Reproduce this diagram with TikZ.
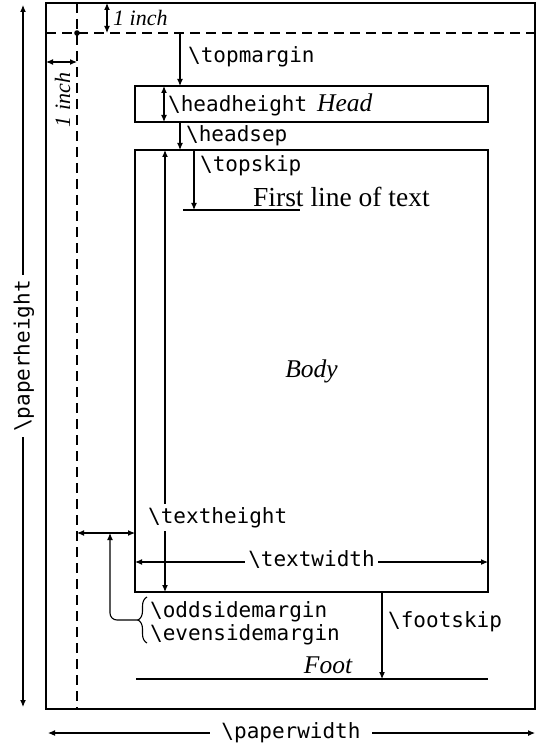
\documentclass[tikz,border=0pt]{standalone}
\usepackage{fontspec}
\setmainfont{Liberation Serif}
\setmonofont{DejaVu Sans Mono}
\usetikzlibrary{decorations.pathreplacing}
\usetikzlibrary{positioning, arrows.meta}

\tikzset{
  dimline/.style={line width=1.1pt, {Latex[length=7pt,width=6pt]}-{Latex[length=7pt,width=6pt]}},
  toline/.style={line width=1.1pt, -{Latex[length=7pt,width=6pt]}},
  boxline/.style={line width=1.1pt},
  inchdash/.style={line width=1.5pt, dash pattern=on 10pt off 6pt},
  cmd/.style={font=\ttfamily\fontsize{21}{23}\selectfont, inner sep=0pt},
  lbl/.style={font=\fontsize{25.5}{28}\selectfont\itshape, inner sep=0pt},
  inchlbl/.style={font=\fontsize{22}{24}\selectfont\itshape, inner sep=0pt},
  gap/.style={fill=white, inner sep=3pt}
}

\begin{document}
\begin{tikzpicture}[x=1pt, y=-1pt]
  \useasboundingbox (0,0) rectangle (538,743);

  % Paper sheet
  \coordinate (paperTL) at (46,3);
  \coordinate (paperBR) at (535,709);
  \draw[line width=2pt] (paperTL) rectangle (paperBR);

  % One inch lines from the top and left edges
  \coordinate (inch) at (77,33);
  \draw[inchdash] (paperTL |- inch) -- (paperBR |- inch);
  \draw[inchdash] (inch |- paperTL) -- (inch |- paperBR);
  \fill (inch) circle (2.8pt);
  \coordinate (inchtop) at (107,3);
  \draw[dimline] (inchtop) -- (inchtop |- inch);
  \node[inchlbl, anchor=base west] (inchtoplbl) at (113,26) {1 inch};
  \coordinate (inchleft) at (46,62);
  \draw[dimline] (inchleft) -- (inchleft -| inch);
  \node[inchlbl, anchor=base, rotate=90] (inchleftlbl) at (70,100) {1 inch};

  % Head box
  \coordinate (headTL) at (135,86);
  \coordinate (headBR) at (488,122);
  \draw[boxline] (headTL) rectangle (headBR);
  \coordinate (topm) at (180,33);
  \draw[toline] (topm) -- (topm |- headTL);
  \node[cmd, anchor=base west] (topmlbl) at (188,63) {\textbackslash topmargin};
  \coordinate (headh) at (164,86);
  \draw[dimline] (headh) -- (headh |- headBR);
  \node[cmd, anchor=base west] (headhlbl) at (168,112) {\textbackslash headheight};
  \node[lbl, anchor=base west] (headlbl) at (317,112) {Head};

  % Body box
  \coordinate (bodyTL) at (135,150);
  \coordinate (bodyBR) at (488,592);
  \draw[boxline] (bodyTL) rectangle (bodyBR);
  \node[lbl] (bodylbl) at (311.5,371) {Body};
  \coordinate (headsep) at (180,122);
  \draw[toline] (headsep) -- (headsep |- bodyTL);
  \node[cmd, anchor=base west] (headseplbl) at (186,142) {\textbackslash headsep};

  % First line of text
  \coordinate (topskip) at (194,150);
  \coordinate (firstL) at (183,210);
  \coordinate (firstR) at (300,210);
  \draw[boxline] (firstL) -- (firstR);
  \draw[toline] (topskip) -- (topskip |- firstL);
  \node[cmd, anchor=base west] (topskiplbl) at (200,172) {\textbackslash topskip};
  \node[font=\fontsize{27.5}{30}\selectfont, inner sep=0pt, anchor=base west]
    (firstlbl) at (253,207) {First line of text};

  % Text height and text width
  \coordinate (texth) at (165,150);
  \draw[dimline] (texth) -- (texth |- bodyBR);
  \node[cmd, gap, anchor=base west] (texthlbl) at (145,523) {\textbackslash textheight};
  \coordinate (textw) at (135,562);
  \draw[dimline] (textw) -- (textw -| bodyBR);
  \node[cmd, gap, anchor=base] (textwlbl) at (311.5,566) {\textbackslash textwidth};

  % Side margins
  \coordinate (sidem) at (77,533);
  \draw[dimline] (sidem) -- (sidem -| bodyTL);
  \node[cmd, anchor=base west] (oddlbl) at (150,617) {\textbackslash oddsidemargin};
  \node[cmd, anchor=base west] (evenlbl) at (150,640) {\textbackslash evensidemargin};
  \coordinate (braceB) at (147,643);
  \coordinate (braceT) at (147,597);
  \draw[boxline, decorate, decoration={brace, amplitude=9pt}] (braceB) -- (braceT);
  \coordinate (bracetip) at (138,620);
  \coordinate (sidearrow) at (110,533);
  \draw[toline, rounded corners=7pt] (bracetip) -| (sidearrow);

  % Foot
  \coordinate (footL) at (136,679);
  \coordinate (footR) at (488,679);
  \draw[boxline] (footL) -- (footR);
  \node[lbl, anchor=base] (footlbl) at (328,673) {Foot};
  \coordinate (footsk) at (382,592);
  \draw[toline] (footsk) -- (footsk |- footL);
  \node[cmd, anchor=base west] (footsklbl) at (388,627) {\textbackslash footskip};

  % Paper height and width
  \coordinate (paperhT) at (23,5);
  \coordinate (paperhB) at (23,707);
  \draw[dimline] (paperhT) -- (paperhB);
  \node[cmd, gap, inner xsep=5pt, rotate=90] (paperhlbl) at (24,356) {\textbackslash paperheight};
  \coordinate (paperwL) at (48,733);
  \coordinate (paperwR) at (535,733);
  \draw[dimline] (paperwL) -- (paperwR);
  \node[cmd, gap, inner xsep=11pt] (paperwlbl) at (291,733) {\textbackslash paperwidth};
\end{tikzpicture}
\end{document}
